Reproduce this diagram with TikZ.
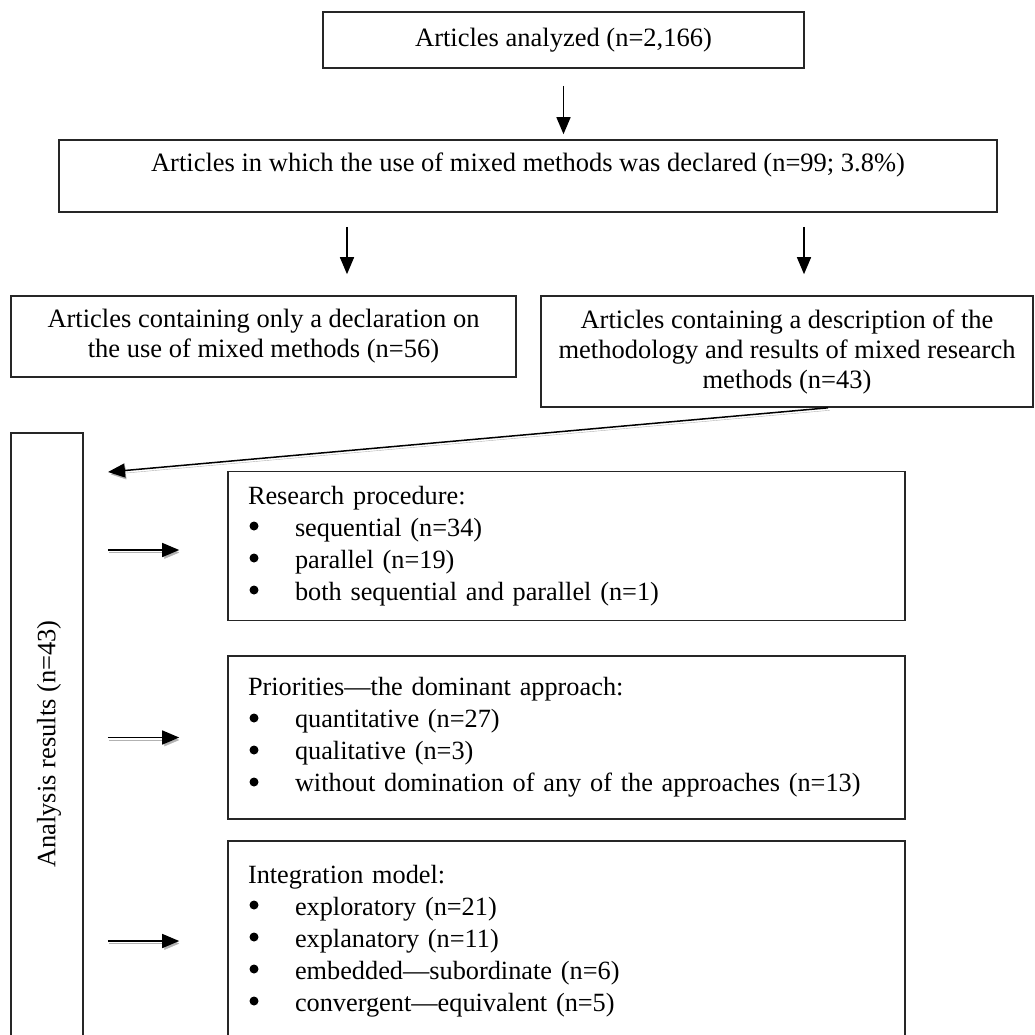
\documentclass[tikz,border=0pt]{standalone}
\usepackage{fontspec}
\setmainfont{Liberation Serif}
\usetikzlibrary{arrows.meta,calc}
\begin{document}
\begin{tikzpicture}[x=1pt,y=-1pt,
  box/.style={draw=black!85, line width=1.6pt, inner sep=0pt, align=center,
    font=\fontsize{26.5}{30}\selectfont},
  listbox/.style={draw=black!85, line width=1.6pt, inner xsep=20pt, inner ysep=0pt,
    align=left, text width=637pt, minimum width=677pt,
    font=\fontsize{26.3}{32}\selectfont},
  arr/.style={line width=1.5pt, -{Triangle[length=17pt,width=14pt]}},
  shadowed/.style={preaction={draw=black!30, transform canvas={shift={(1.5pt,-2.5pt)}}}},
  bul/.style={fill=black},
]
\useasboundingbox (0,0) rectangle (1035,1034);
\fill[white] (0,0) rectangle (1035,1034);

\newcommand{\bitem}[1]{\hspace*{47pt}#1}

% top boxes
\node[box, minimum width=481pt, minimum height=56pt] (b1) at (563.5,40)
  {Articles analyzed (n=2,166)};
\node[box, minimum width=938pt, minimum height=72pt, text height=31pt, text depth=41pt] (b2) at (528,176)
  {Articles in which the use of mixed methods was declared (n=99; 3.8\%)};
\node[box, minimum width=505pt, minimum height=81pt] (b3) at (263.5,336.5)
  {Articles containing only a declaration on\\the use of mixed methods (n=56)};
\node[box, minimum width=492pt, minimum height=111pt] (b4) at (787,351.5)
  {Articles containing a description of the\\methodology and results of mixed research\\methods (n=43)};

% analysis column
\node[box, minimum width=72pt, minimum height=622pt] (ar) at (47,744) {};
\node[rotate=90, inner sep=0pt, font=\fontsize{26.5}{30}\selectfont] (artext) at (49,744)
  {Analysis results (n=43)};

% result boxes
\node[listbox, minimum height=149pt] (r1) at (566.5,546)
  {Research procedure:\\
   \bitem{sequential (n=34)}\\
   \bitem{parallel (n=19)}\\
   \bitem{both sequential and parallel (n=1)}};
\node[listbox, minimum height=163pt] (r2) at (566.5,737.5)
  {Priorities—the dominant approach:\\
   \bitem{quantitative (n=27)}\\
   \bitem{qualitative (n=3)}\\
   \bitem{without domination of any of the approaches (n=13)}};
\node[listbox, minimum height=200pt] (r3) at (566.5,941)
  {Integration model:\\
   \bitem{exploratory (n=21)}\\
   \bitem{explanatory (n=11)}\\
   \bitem{embedded—subordinate (n=6)}\\
   \bitem{convergent—equivalent (n=5)}};

% bullets
\foreach \yy in {526,558,590,718,750,782,905,937,969,1001}
  \fill[bul] (254,\yy) circle (4.5pt);

% connectors
\coordinate (x2) at (347,0);
\coordinate (x3) at (804,0);
\coordinate (dt) at (108,472);
\path ([yshift=-4pt]r1.west) coordinate (r1a);

\draw[arr, shorten <=17pt, shorten >=5pt] (b1.south) -- (b1.south |- b2.north);
\draw[arr, shorten <=14pt, shorten >=21pt] (x2 |- b2.south) -- (x2 |- b3.north);
\draw[arr, shorten <=14pt, shorten >=21pt] (x3 |- b2.south) -- (x3 |- b4.north);
\draw[arr, shadowed] ([xshift=41pt]b4.south) -- (dt);
\draw[arr, shadowed, shorten <=24pt, shorten >=48pt] (ar.east |- r1a) -- (r1a);
\draw[arr, shadowed, shorten <=24pt, shorten >=48pt] (ar.east |- r2.west) -- (r2.west);
\draw[arr, shadowed, shorten <=24pt, shorten >=48pt] (ar.east |- r3.west) -- (r3.west);
\end{tikzpicture}
\end{document}
